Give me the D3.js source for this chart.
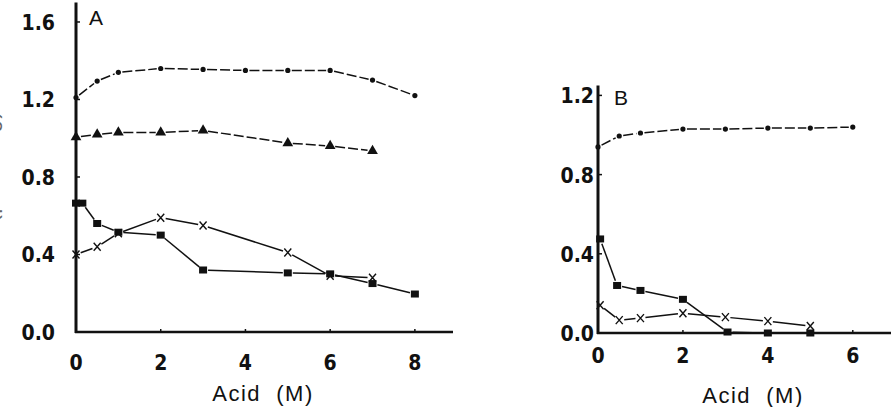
<!DOCTYPE html>
<html>
<head>
<meta charset="utf-8">
<script src="https://cdn.jsdelivr.net/npm/d3@7"></script>
<style>
  body { margin: 0; background: #fff; }
  svg { display: block; }
  .tick-label { font-family: "DejaVu Sans", sans-serif; font-stretch: condensed; font-weight: bold; font-size: 21px; fill: #111; }
  .axis-title { font-family: "Liberation Sans", Arial, sans-serif; font-size: 22px; letter-spacing: 1.5px; fill: #111; white-space: pre; }
  .panel-label { font-family: "Liberation Sans", Arial, sans-serif; font-size: 21px; fill: #111; }
</style>
</head>
<body>
<svg width="892" height="407"></svg>
<script>
// Panel A data
var acidA = [0, 0.5, 1, 2, 3, 4, 5, 6, 7, 8];
var circA = [1.21, 1.295, 1.34, 1.36, 1.355, 1.35, 1.35, 1.35, 1.30, 1.22];
var triX_A = [0, 0.5, 1, 2, 3, 5, 6, 7];
var triA = [1.005, 1.02, 1.03, 1.03, 1.04, 0.975, 0.96, 0.935];
var sqX_A = [0, 0.15, 0.5, 1, 2, 3, 5, 6, 7, 8];
var sqA = [0.665, 0.665, 0.56, 0.515, 0.50, 0.32, 0.305, 0.30, 0.25, 0.196];
var crX_A = [0, 0.5, 1, 2, 3, 5, 6, 7];
var crA = [0.40, 0.44, 0.51, 0.59, 0.55, 0.41, 0.29, 0.28];

// Panel B data
var acidB = [0, 0.5, 1, 2, 3, 4, 5, 6];
var circB = [0.94, 0.995, 1.01, 1.03, 1.03, 1.035, 1.035, 1.04];
var sqX_B = [0.05, 0.45, 1, 2, 3.05, 4, 5];
var sqB = [0.475, 0.24, 0.215, 0.17, 0.005, 0.0, 0.0];
var crX_B = [0.05, 0.5, 1, 2, 3, 4, 5];
var crB = [0.14, 0.065, 0.075, 0.10, 0.08, 0.06, 0.035];

var yTicksA = [0, 0.4, 0.8, 1.2, 1.6];
var yTicksB = [0, 0.4, 0.8, 1.2];
var xTicksA = [0, 2, 4, 6, 8];
var xTicksB = [0, 2, 4, 6];

var svg = d3.select('svg');

function zip(xs, ys) { return xs.map(function(x, i) { return [x, ys[i]]; }); }

function drawPanel(opt) {
  var x = d3.scaleLinear().domain(opt.xDomain).range(opt.xRange);
  var y = d3.scaleLinear().domain(opt.yDomain).range(opt.yRange);
  var g = svg.append('g');

  // axes lines
  g.append('line')
    .attr('x1', x(0)).attr('x2', x(0))
    .attr('y1', y(0) + 1).attr('y2', y(opt.yDomain[1]))
    .attr('stroke', '#111').attr('stroke-width', 3);
  g.append('line')
    .attr('x1', x(0) - 1).attr('x2', x(opt.xDomain[1]))
    .attr('y1', y(0)).attr('y2', y(0))
    .attr('stroke', '#111').attr('stroke-width', 2.5);

  // y ticks
  opt.yTicks.forEach(function(t) {
    g.append('line')
      .attr('x1', x(0)).attr('x2', x(0) + 4)
      .attr('y1', y(t)).attr('y2', y(t))
      .attr('stroke', '#111').attr('stroke-width', 1.5);
    g.append('text').attr('class', 'tick-label')
      .attr('x', x(0) - opt.yLabelGap).attr('y', y(t) + 8)
      .attr('text-anchor', 'end')
      .text(d3.format('.1f')(t));
  });
  // x ticks
  opt.xTicks.forEach(function(t) {
    g.append('line')
      .attr('x1', x(t)).attr('x2', x(t))
      .attr('y1', y(0)).attr('y2', y(0) - 3)
      .attr('stroke', '#111').attr('stroke-width', 1.5);
    g.append('text').attr('class', 'tick-label')
      .attr('x', x(t)).attr('y', opt.xLabelY)
      .attr('text-anchor', 'middle')
      .text(t);
  });

  g.append('text').attr('class', 'axis-title')
    .attr('x', opt.titleX).attr('y', opt.titleY)
    .attr('text-anchor', 'middle')
    .text('Acid  (M)');
  g.append('text').attr('class', 'panel-label')
    .attr('x', opt.labelX).attr('y', opt.labelY)
    .text(opt.label);

  opt.series.forEach(function(s) {
    var pts = zip(s.x, s.y).map(function(p) { return [x(p[0]), y(p[1])]; });
    // segments with small gaps near the markers
    for (var i = 0; i < pts.length - 1; i++) {
      var a = pts[i], b = pts[i + 1];
      var dx = b[0] - a[0], dy = b[1] - a[1];
      var len = Math.sqrt(dx * dx + dy * dy);
      var gap = Math.min(s.gap, len / 3);
      var ux = dx / len, uy = dy / len;
      g.append('line')
        .attr('x1', a[0] + ux * gap).attr('y1', a[1] + uy * gap)
        .attr('x2', b[0] - ux * gap).attr('y2', b[1] - uy * gap)
        .attr('stroke', '#111').attr('stroke-width', 1.5)
        .attr('stroke-dasharray', s.dash || null);
    }
    pts.forEach(function(p) {
      if (s.shape === 'circle') {
        g.append('circle').attr('cx', p[0]).attr('cy', p[1]).attr('r', 2.6).attr('fill', '#111');
      } else if (s.shape === 'triangle') {
        g.append('path')
          .attr('d', d3.symbol().type(d3.symbolTriangle).size(50)())
          .attr('transform', 'translate(' + p[0] + ',' + p[1] + ')')
          .attr('fill', '#111');
      } else if (s.shape === 'square') {
        g.append('rect').attr('x', p[0] - 4).attr('y', p[1] - 3.5)
          .attr('width', 8).attr('height', 7).attr('fill', '#111');
      } else if (s.shape === 'cross') {
        g.append('path')
          .attr('d', 'M-3.5,-4L3.5,4M3.5,-4L-3.5,4')
          .attr('transform', 'translate(' + p[0] + ',' + p[1] + ')')
          .attr('stroke', '#111').attr('stroke-width', 1.4).attr('fill', 'none');
      }
    });
  });
}

drawPanel({
  xDomain: [0, 8.9], xRange: [76, 453],
  yDomain: [0, 1.7], yRange: [332, 2.6],
  yTicks: yTicksA, xTicks: xTicksA,
  yLabelGap: 21, xLabelY: 370,
  titleX: 263, titleY: 401,
  label: 'A', labelX: 89, labelY: 25,
  series: [
    { x: acidA, y: circA, shape: 'circle', gap: 4, dash: '10,3' },
    { x: triX_A, y: triA, shape: 'triangle', gap: 5, dash: '10,3' },
    { x: sqX_A, y: sqA, shape: 'square', gap: 5, dash: null },
    { x: crX_A, y: crA, shape: 'cross', gap: 5, dash: null }
  ]
});

drawPanel({
  xDomain: [0, 6.9], xRange: [598, 891],
  yDomain: [0, 1.25], yRange: [333, 85.5],
  yTicks: yTicksB, xTicks: xTicksB,
  yLabelGap: 4, xLabelY: 363,
  titleX: 753, titleY: 403,
  label: 'B', labelX: 614, labelY: 105,
  series: [
    { x: acidB, y: circB, shape: 'circle', gap: 4, dash: '10,3' },
    { x: sqX_B, y: sqB, shape: 'square', gap: 5, dash: null },
    { x: crX_B, y: crB, shape: 'cross', gap: 5, dash: null }
  ]
});

// y-axis title, cut off at the left edge as in the original scan
svg.append('text').attr('class', 'axis-title')
  .attr('transform', 'translate(-3,210) rotate(-90)')
  .attr('text-anchor', 'middle')
  .style('fill', '#666')
  .text('Protein (µmol/mg)');
</script>
</body>
</html>
